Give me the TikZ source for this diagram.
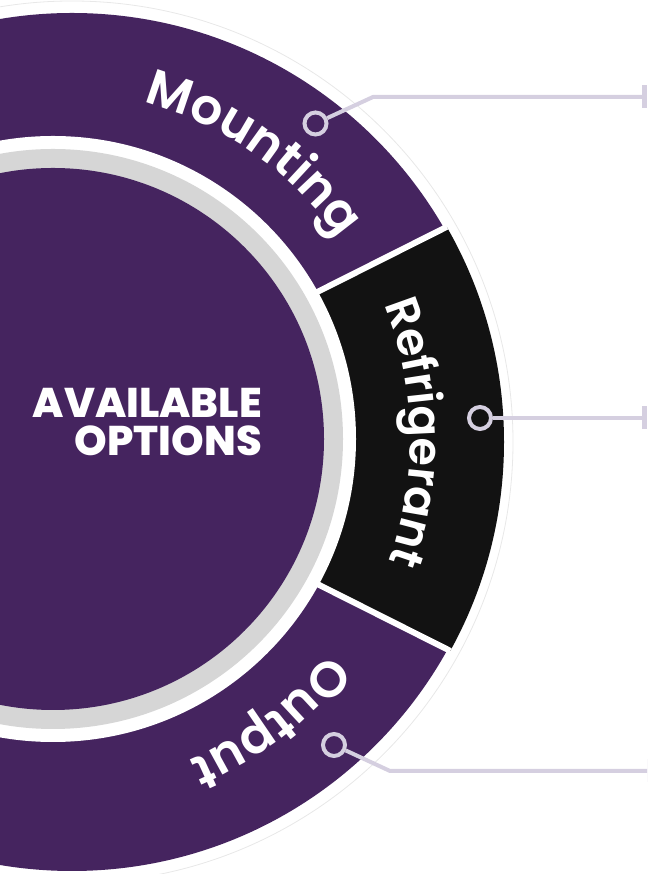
\documentclass[tikz,border=0pt]{standalone}
\usepackage{xcolor}
\usepackage{fontspec}
\setmainfont{Poppins}
\newfontfamily\labelfont{Poppins SemiBold}
\newfontfamily\titlefont{Poppins ExtraBold}
\usetikzlibrary{decorations.text,arrows.meta}

\definecolor{deeppurple}{HTML}{45245F}
\definecolor{nearblack}{HTML}{121212}
\definecolor{ringgray}{HTML}{D6D6D6}
\definecolor{lavender}{HTML}{D5CFE0}
\definecolor{rimgray}{HTML}{E8E8E8}

\begin{document}
\begin{tikzpicture}[x=1pt, y=1pt,
    dot/.style={draw=lavender, line width=4pt, circle, minimum size=22pt, inner sep=0pt},
    leader/.style={draw=lavender, line width=4pt, -{Bar[width=23pt,line width=5pt]}},
    ringlabel/.style 2 args={decorate, decoration={text along path, text align=center,
      text={|\color{white}\labelfont\fontsize{#1}{#1}\selectfont|#2}}}
  ]
  \useasboundingbox (0,0) rectangle (647,874);
  \clip (0,0) rectangle (647,874);

  \coordinate (outer) at (72,432);
  \coordinate (inner) at (53,435);
  \coordinate (apex) at (27,436);

  % outer ring
  \fill[white, draw=rimgray, line width=0.8pt] (outer) circle (441);
  \fill[deeppurple] (outer) circle (429);
  \begin{scope}
    \clip (outer) circle (432);
    \fill[nearblack] (apex) -- +(26.7:700) -- +(-26.7:700) -- cycle;
    \draw[white, line width=6pt] (apex) -- +(26.7:700) (apex) -- +(-26.7:700);
  \end{scope}

  % centre disc
  \fill[white] (inner) circle (303);
  \fill[ringgray] (inner) circle (290);
  \fill[deeppurple] (inner) circle (271);

  \node (title) [anchor=east, align=right, text=white, inner sep=0pt,
    font=\titlefont\fontsize{41.5}{38}\selectfont] at (262,452) {AVAILABLE\\OPTIONS};

  % labels on the ring
  \path[ringlabel={50}{Mounting}] (inner) ++(96:349) arc[start angle=96, end angle=14, radius=349];
  \path[ringlabel={46}{Refrigerant}] (inner) ++(36:357) arc[start angle=36, end angle=-34, radius=357];
  \path[ringlabel={50}{Output}] (inner) ++(-13:349) arc[start angle=-13, end angle=-92, radius=349];

  % markers and leaders
  \node (mountdot) [dot, fill=deeppurple] at (315.5,750.5) {};
  \node (refdot) [dot, fill=nearblack] at (480,456) {};
  \node (outdot) [dot, fill=deeppurple] at (334,129) {};

  \coordinate (mountbend) at (373,777);
  \coordinate (mountend) at (647,777);
  \coordinate (refend) at (647,456);
  \coordinate (outbend) at (390,103);
  \coordinate (outend) at (652,103);

  \draw[leader] (mountdot) -- (mountbend) -- (mountend);
  \draw[leader] (refdot) -- (refend);
  \draw[leader] (outdot) -- (outbend) -- (outend);
\end{tikzpicture}
\end{document}
